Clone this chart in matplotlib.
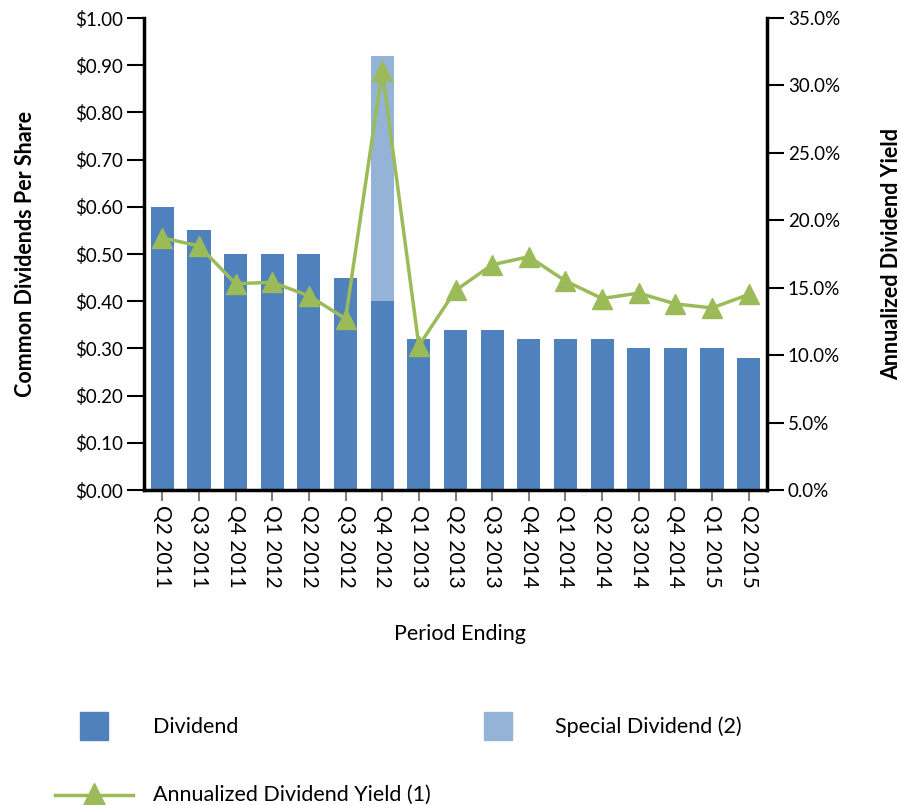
import matplotlib.pyplot as plt
from matplotlib.patches import Rectangle
from matplotlib.lines import Line2D
from matplotlib.ticker import FuncFormatter, MultipleLocator

plt.rcParams['font.family'] = ['Lato', 'DejaVu Sans']

# quarterly dividend data
periods = ['Q2 2011', 'Q3 2011', 'Q4 2011', 'Q1 2012', 'Q2 2012', 'Q3 2012',
           'Q4 2012', 'Q1 2013', 'Q2 2013', 'Q3 2013', 'Q4 2014', 'Q1 2014',
           'Q2 2014', 'Q3 2014', 'Q4 2014', 'Q1 2015', 'Q2 2015']
dividend = [0.60, 0.55, 0.50, 0.50, 0.50, 0.45, 0.40, 0.32, 0.34, 0.34,
            0.32, 0.32, 0.32, 0.30, 0.30, 0.30, 0.28]
special = [0, 0, 0, 0, 0, 0, 0.52, 0, 0, 0, 0, 0, 0, 0, 0, 0, 0]
yield_pct = [18.7, 18.1, 15.3, 15.4, 14.4, 12.7, 31.1, 10.7, 14.8, 16.7,
             17.3, 15.5, 14.2, 14.6, 13.8, 13.5, 14.5]

BLUE = '#4F81BD'
LIGHT = '#95B3D7'
GREEN = '#9BBB59'
FS_TICK = 13.5
FS_LABEL = 15.5

W, H = 901, 805
fig = plt.figure(figsize=(W / 100, H / 100), dpi=100)


def px(x, y):
    # pixel position (top-left origin) -> figure fraction
    return x / W, 1 - y / H


ax = fig.add_axes([144 / W, 1 - 490 / H, (767 - 144) / W, (490 - 18) / H])
x = range(len(periods))
ax.bar(x, dividend, width=0.63, color=BLUE, zorder=2)
ax.bar(x, special, width=0.63, bottom=dividend, color=LIGHT, zorder=2)
ax.set_xlim(-0.5, len(periods) - 0.5)
ax.set_ylim(0, 1.0)
ax.yaxis.set_major_locator(MultipleLocator(0.1))
ax.yaxis.set_major_formatter(FuncFormatter(lambda v, p: f'${v:.2f}'))
ax.set_xticks(list(x))
ax.set_xticklabels(periods, rotation=-90, fontsize=15)
ax.tick_params(axis='x', length=8, width=1.5, color='#7f7f7f', pad=3)
ax.tick_params(axis='y', length=12, width=1.5, labelsize=FS_TICK, pad=3)
ax.set_ylabel('Common Dividends Per Share', fontsize=FS_LABEL,
              fontweight='bold')
ax.yaxis.set_label_coords(-0.191, 0.5)
ax.yaxis.label.set_va('center')
ax.set_xlabel('Period Ending', fontsize=FS_LABEL)
ax.xaxis.set_label_coords(0.507, -0.305)
ax.xaxis.label.set_va('center')
for s in ['top', 'right']:
    ax.spines[s].set_visible(False)
ax.spines['left'].set_linewidth(2.5)
ax.spines['bottom'].set_linewidth(2.5)

ax2 = ax.twinx()
ax2.plot(list(x), yield_pct, color=GREEN, linewidth=2.5, marker='^',
         markersize=15, zorder=3)
ax2.set_ylim(0, 35)
ax2.yaxis.set_major_locator(MultipleLocator(5))
ax2.yaxis.set_major_formatter(FuncFormatter(lambda v, p: f'{v:.1f}%'))
ax2.tick_params(axis='y', length=12, width=1.5, labelsize=FS_TICK, pad=3)
ax2.set_ylabel('Annualized Dividend Yield', fontsize=FS_LABEL,
               fontweight='bold', rotation=90)
ax2.yaxis.set_label_coords(1.2, 0.5)
ax2.yaxis.label.set_va('center')
for s in ['top', 'left', 'bottom']:
    ax2.spines[s].set_visible(False)
ax2.spines['right'].set_linewidth(2.5)

# legend drawn by hand
x0, y0 = px(80, 740)
fig.add_artist(Rectangle((x0, y0), 28 / W, 28 / H, color=BLUE,
                         transform=fig.transFigure))
fig.text(*px(153, 727), 'Dividend', fontsize=FS_LABEL, va='center')
x0, y0 = px(484, 740)
fig.add_artist(Rectangle((x0, y0), 28 / W, 28 / H, color=LIGHT,
                         transform=fig.transFigure))
fig.text(*px(555, 727), 'Special Dividend (2)', fontsize=FS_LABEL,
         va='center')
lx0, ly = px(55, 795)
lx1, _ = px(133, 795)
fig.add_artist(Line2D([lx0, lx1], [ly, ly], color=GREEN, linewidth=2.5,
                      transform=fig.transFigure))
fig.add_artist(Line2D([(lx0 + lx1) / 2], [ly], color=GREEN, marker='^',
                      markersize=17, transform=fig.transFigure))
fig.text(*px(153, 795), 'Annualized Dividend Yield (1)', fontsize=FS_LABEL,
         va='center')

fig.savefig('out.png', dpi=100)
